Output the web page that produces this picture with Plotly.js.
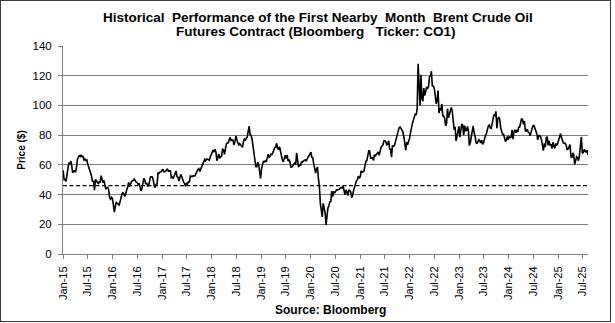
<!DOCTYPE html>
<html>
<head>
<meta charset="utf-8">
<script src="https://cdn.plot.ly/plotly-3.0.1.min.js"></script>
<style>
  html, body { margin: 0; padding: 0; background: #ffffff; }
  #wrap { position: relative; width: 615px; height: 323px; }
  #chart { width: 615px; height: 323px; }
  #frame { position: absolute; left: 0; top: 0; width: 611px; height: 322px;
           box-sizing: border-box; border: 1.5px solid #3c3c3c; pointer-events: none; }
</style>
</head>
<body>
<div id="wrap"><div id="chart"></div><div id="frame"></div></div>
<script>
// ---- Data: weekly (Friday) front-month Brent settlement estimates ----
// Each yearly array starts on the first Friday listed in firstFriday and steps one week.
const firstFriday = {
  y2015: '2015-01-02', y2016: '2016-01-01', y2017: '2017-01-06', y2018: '2018-01-05',
  y2019: '2019-01-04', y2020: '2020-01-03', y2021: '2021-01-01', y2022: '2022-01-07',
  y2023: '2023-01-06', y2024: '2024-01-05', y2025: '2025-01-03'
};
const price2015 = [56.4,50.1,50.2,48.8,53.0,57.8,61.5,60.2,62.6,59.7,54.7,55.3,56.4,55.0,57.9,63.5,65.3,66.5,65.4,66.8,65.4,65.6,63.3,63.9,63.0,63.3,60.3,58.7,57.1,54.6,52.2,48.6,49.2,43.0,50.1,49.6,48.1,47.5,48.6,48.1,52.7,50.5,48.0,49.6,47.4,43.6,44.7,44.9,43.0,37.9,36.9,38.1];
const price2016 = [37.3,33.6,28.2,32.2,34.7,34.1,33.4,33.0,35.1,38.7,40.4,41.2,40.4,38.7,41.9,43.1,45.1,48.1,45.4,47.8,48.7,49.3,49.6,50.5,49.2,48.4,48.0,46.8,47.6,45.7,42.5,44.3,47.0,50.9,49.9,47.0,48.0,45.8,45.9,49.1,51.9,51.95,51.8,49.7,45.6,44.8,46.9,47.2,54.5,54.3,55.2,55.2,56.8];
const price2017 = [57.1,55.45,55.5,55.5,56.8,57.0,55.8,56.0,55.9,51.4,51.8,50.8,52.8,55.2,55.9,52.0,51.7,49.1,50.8,53.6,52.2,49.95,48.15,47.4,45.5,47.9,46.7,48.9,48.1,52.5,52.4,52.1,52.7,52.4,52.75,53.8,55.6,56.9,57.5,55.6,57.2,57.75,60.4,62.1,63.5,62.7,63.9,63.7,63.4,63.2,65.25,66.9];
const price2018 = [67.6,69.9,68.6,70.5,68.6,62.8,64.8,67.3,64.4,65.5,66.2,70.45,70.3,67.1,72.6,74.1,74.6,74.9,77.1,78.5,76.4,76.8,76.5,73.4,75.6,79.4,77.1,75.3,73.1,74.3,73.2,72.8,71.8,75.8,77.4,76.8,78.1,78.8,82.7,86.0,80.4,79.8,77.6,72.8,70.2,66.8,58.8,58.7,61.7,60.3,53.8,50.8];
const price2019 = [57.1,60.5,62.7,61.6,62.75,62.1,66.25,67.1,65.1,65.7,67.2,67.0,68.4,70.3,71.55,71.97,74.5,70.85,70.6,72.2,68.7,64.5,63.3,62.0,65.2,66.55,64.2,66.7,62.5,63.5,61.9,58.5,58.6,59.3,60.4,61.5,60.2,68.0,61.9,58.4,60.5,59.4,61.95,61.7,62.5,63.3,63.4,62.4,64.4,65.2,66.1,68.2];
const price2020 = [68.6,65.0,64.85,60.7,58.2,54.5,57.3,58.5,50.5,45.3,33.85,26.98,24.9,34.1,31.5,28.1,19.5,26.4,30.97,32.5,35.1,35.3,42.3,38.7,42.2,41.0,42.8,43.2,43.1,43.3,43.5,44.4,44.8,44.35,45.8,42.7,39.8,43.15,41.9,39.3,42.85,42.9,41.8,37.9,39.45,42.8,44.96,48.2,49.25,50.0,52.3,51.3];
const price2021 = [51.8,55.99,55.1,55.4,55.9,59.3,62.4,62.9,66.1,69.4,69.2,64.5,64.6,64.9,62.95,66.8,66.1,67.25,68.3,68.7,66.4,69.6,71.9,72.7,73.5,76.2,76.2,75.55,73.6,74.1,76.3,70.7,70.6,65.2,72.7,72.6,72.9,75.3,78.1,79.3,82.4,84.9,85.5,84.4,82.7,82.2,78.9,72.7,69.9,75.15,73.5,76.1,77.8];
const price2022 = [81.75,86.06,87.9,90.0,93.3,94.4,93.5,97.9,128.0,112.7,100.0,120.65,104.4,102.8,111.7,106.65,109.3,112.4,111.55,112.55,119.4,119.7,123.0,113.1,113.1,111.6,107.0,101.2,103.2,110.0,94.9,98.15,96.7,100.99,93.0,92.8,91.35,86.15,87.96,97.9,91.6,93.5,95.8,98.6,95.99,87.6,83.6,85.6,76.1,79.0,83.9,85.9];
const price2023 = [78.6,85.3,87.6,86.7,79.9,86.4,83.0,83.2,85.8,82.8,72.97,74.99,79.8,85.1,86.3,81.7,79.5,75.3,74.2,75.6,76.95,76.1,74.8,76.6,73.85,74.9,78.5,79.9,81.1,84.99,86.2,86.8,84.8,84.5,88.55,90.65,93.9,93.3,96.0,84.6,90.9,92.2,90.5,84.9,81.4,80.6,80.6,78.9,75.8,76.55,79.1,77.0];
const price2024 = [78.8,78.3,78.6,83.55,77.3,82.2,83.5,81.6,83.55,82.1,85.3,85.4,87.5,91.2,90.45,87.3,89.5,82.96,82.8,83.98,82.1,81.6,79.6,82.6,85.2,86.4,86.5,85.0,82.6,81.1,76.8,79.7,79.7,79.0,76.9,71.1,69.6,74.5,71.98,78.05,79.0,73.1,76.05,73.1,73.9,71.0,75.2,72.9,71.1,74.5,72.9,74.2];
const price2025 = [76.5,79.8,81.0,78.5,76.8,74.7,74.7,74.4,73.2,70.4,70.6,72.2,73.6,65.6,64.8,67.96,66.9,60.3,63.9,65.4,64.8,62.8,66.5,74.2,78.8,67.8,68.3,70.4,69.3,68.4,69.7,66.6];

const referenceLevel = 46;          // dashed horizontal reference line ($)
const xStart = '2015-01-01';
const xEnd = '2025-08-08';
const yTicks = [0, 20, 40, 60, 80, 100, 120, 140];

const titleLine1 = 'Historical&nbsp;&nbsp;Performance of the First Nearby&nbsp; Month&nbsp; Brent Crude Oil';
const titleLine2 = 'Futures Contract (Bloomberg&nbsp;&nbsp; Ticker: CO1)';
const yTitle = 'Price ($)';
const sourceText = 'Source: Bloomberg';

// ---- Build series ----
const yearly = [
  ['y2015', price2015], ['y2016', price2016], ['y2017', price2017], ['y2018', price2018],
  ['y2019', price2019], ['y2020', price2020], ['y2021', price2021], ['y2022', price2022],
  ['y2023', price2023], ['y2024', price2024], ['y2025', price2025]
];
function pad(n) { return (n < 10 ? '0' : '') + n; }
const dates = [], prices = [];
yearly.forEach(function (entry) {
  const start = new Date(firstFriday[entry[0]] + 'T00:00:00Z');
  entry[1].forEach(function (v, i) {
    const d = new Date(start.getTime() + i * 7 * 86400000);
    dates.push(d.getUTCFullYear() + '-' + pad(d.getUTCMonth() + 1) + '-' + pad(d.getUTCDate()));
    prices.push(v);
  });
});

const FONT = 'Liberation Sans, Arial, Helvetica, sans-serif';
const L = 63, R = 27, T = 46, B = 69, W = 615, H = 323;
const pw = W - L - R, ph = H - T - B;
function px2x(px) { return (px - L) / pw; }
function px2y(py) { return (H - B - py) / ph; }

const traces = [{
  type: 'scatter', mode: 'lines', x: dates, y: prices,
  line: { color: '#000000', width: 1.6 }, hoverinfo: 'x+y', showlegend: false
}];

const layout = {
  width: W, height: H,
  margin: { l: L, r: R, t: T, b: B, pad: 0 },
  paper_bgcolor: '#ffffff', plot_bgcolor: '#ffffff',
  font: { family: FONT, color: '#000000', size: 11 },
  showlegend: false,
  xaxis: {
    type: 'date', range: [xStart, xEnd],
    tickmode: 'linear', tick0: '2015-01-01', dtick: 'M6', tickformat: '%b-%y',
    tickangle: -90, tickfont: { family: FONT, size: 11, color: '#000000' },
    ticks: 'outside', ticklen: 4, tickwidth: 1, tickcolor: '#808080',
    showline: true, linecolor: '#808080', linewidth: 1,
    showgrid: false, zeroline: false, ticklabelstandoff: 3
  },
  yaxis: {
    range: [0, 140], tickmode: 'array', tickvals: yTicks,
    tickfont: { family: FONT, size: 11.5, color: '#000000' },
    ticks: 'outside', ticklen: 4, tickwidth: 1, tickcolor: '#808080',
    showline: true, linecolor: '#808080', linewidth: 1,
    showgrid: true, gridcolor: '#7a7a7a', gridwidth: 1, zeroline: false,
    ticklabelstandoff: 4,
    title: { text: yTitle, font: { family: FONT, size: 10, weight: 'bold', color: '#000000' }, standoff: 5 }
  },
  shapes: [{
    type: 'line', xref: 'paper', x0: 0, x1: 1, yref: 'y', y0: referenceLevel, y1: referenceLevel,
    line: { color: '#000000', width: 1.3, dash: '4px,2.5px' }
  }],
  annotations: [
    { text: titleLine1, xref: 'paper', yref: 'paper', x: px2x(318), y: px2y(17), xanchor: 'center', yanchor: 'middle',
      showarrow: false, font: { family: FONT, size: 13.5, weight: 'bold', color: '#000000' } },
    { text: titleLine2, xref: 'paper', yref: 'paper', x: px2x(316), y: px2y(31), xanchor: 'center', yanchor: 'middle',
      showarrow: false, font: { family: FONT, size: 13.5, weight: 'bold', color: '#000000' } },
    { text: sourceText, xref: 'paper', yref: 'paper', x: px2x(330), y: px2y(310), xanchor: 'center', yanchor: 'middle',
      showarrow: false, font: { family: FONT, size: 12, weight: 'bold', color: '#000000' } }
  ]
};

Plotly.newPlot('chart', traces, layout, { displayModeBar: false, staticPlot: true });
</script>
</body>
</html>
